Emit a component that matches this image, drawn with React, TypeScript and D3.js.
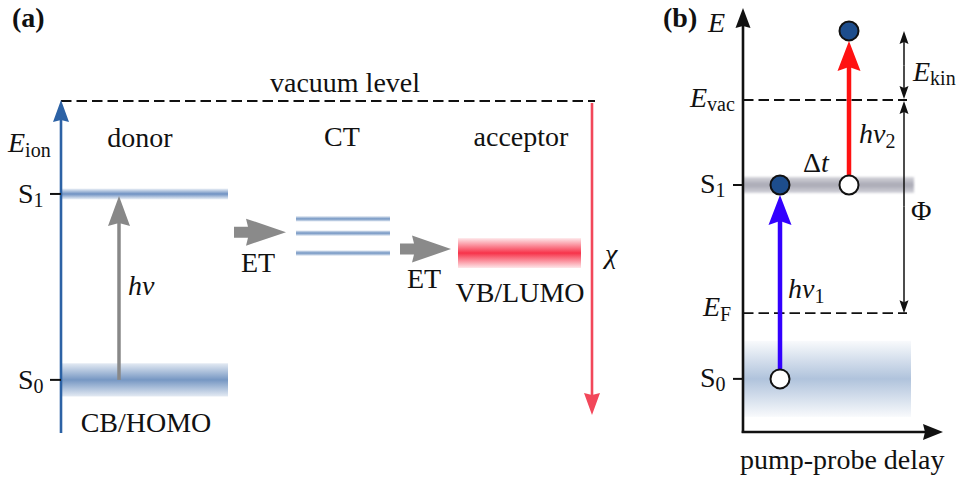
import React from "react";
import * as d3 from "d3";

// ---------- data (energies in arbitrary eV-like units, vacuum level = 0) ----------
const donorLevelNames = ["S1", "S0"];
const donorLevelEnergies = [-2.8, -8.4];
const donorLevelWidths = [0.33, 1.0];
const ctLevelEnergies = [-3.55, -3.98, -4.58];
const acceptorEnergy = [-4.58];
const acceptorWidth = [0.9];
const vacuumEnergy = 0;
const axisMinA = -10;
const chiEnd = -9.46;

const levelNamesB = ["E_vac", "E_F"];
const levelEnergiesB = [0, -6.42];
const stateNamesB = ["S1", "S0"];
const stateEnergiesB = [-2.56, -8.4];
const stateWidthsB = [0.48, 2.29];
const pulseDelays = [0.185, 0.53]; // pump, probe
const photoelectronEnergy = [2.08];
const axisMaxB = 2.71;
const axisMinB = -10;

const FONT = "'Liberation Serif', 'Times New Roman', serif";

// scales
const yA = d3.scaleLinear().domain([0, -10]).range([101, 433]);
const yB = d3.scaleLinear().domain([0, -10]).range([100, 432]);
const xB = d3.scaleLinear().domain([0, 1]).range([743, 943]);

function head(x1: number, y1: number, x2: number, y2: number, len: number, w: number, conc = 3) {
  const dx = x2 - x1, dy = y2 - y1;
  const L = Math.hypot(dx, dy);
  const ux = dx / L, uy = dy / L;
  const nx = -uy, ny = ux;
  const bx = x2 - ux * len, by = y2 - uy * len;
  const ix = x2 - ux * (len - conc), iy = y2 - uy * (len - conc);
  const pts = [
    [x2, y2],
    [bx + nx * w / 2, by + ny * w / 2],
    [ix, iy],
    [bx - nx * w / 2, by - ny * w / 2],
  ];
  return { points: pts.map((p) => p.join(",")).join(" "), ix, iy };
}

function Arrow({ x1, y1, x2, y2, color, sw, len, w, conc = 3 }: any) {
  const h = head(x1, y1, x2, y2, len, w, conc);
  return (
    <g>
      <line x1={x1} y1={y1} x2={h.ix} y2={h.iy} stroke={color} strokeWidth={sw} />
      <polygon points={h.points} fill={color} />
    </g>
  );
}

function BlockArrow({ x0, x1, yc }: any) {
  const shaftH = 11, headH = 27, headStart = x0 + 14;
  const pts = [
    [x0, yc - shaftH / 2],
    [headStart, yc - shaftH / 2],
    [headStart - 2, yc - headH / 2],
    [x1, yc],
    [headStart - 2, yc + headH / 2],
    [headStart, yc + shaftH / 2],
    [x0, yc + shaftH / 2],
  ];
  return <polygon points={pts.map((p) => p.join(",")).join(" ")} fill="#8a8a8a" />;
}

function Grad({ id, color, edge }: any) {
  return (
    <linearGradient id={id} x1="0" y1="0" x2="0" y2="1">
      <stop offset="0%" stopColor={color} stopOpacity={edge} />
      <stop offset="50%" stopColor={color} stopOpacity={1} />
      <stop offset="100%" stopColor={color} stopOpacity={edge} />
    </linearGradient>
  );
}

function Sub({ x, y, main, sub, italic = false, size = 28, subSize = 20, dy = 5, anchor = "start" }: any) {
  return (
    <text x={x} y={y} fontFamily={FONT} fontSize={size} fill="#111" textAnchor={anchor}>
      <tspan fontStyle={italic ? "italic" : "normal"}>{main}</tspan>
      <tspan fontSize={subSize} dy={dy}>{sub}</tspan>
    </text>
  );
}

export default function App() {
  const axisXA = 61;
  const donorX0 = 61, donorX1 = 228;
  const ctX0 = 296, ctX1 = 390;
  const accX0 = 458, accX1 = 581;
  const chiX = 592;
  const axisXB = xB(0);
  const bandEndB = xB(0.84);
  const dashEndB = xB(0.82);
  const sideX = xB(0.805);
  const blueAxis = "#2c62a5";
  const red = "#f2475a";

  return (
    <svg width={962} height={481} style={{ position: "absolute", left: 0, top: 0, background: "#fff" }}>
      <defs>
        <Grad id="gS1" color="#6e91c2" edge={0.12} />
        <Grad id="gS0" color="#7697c3" edge={0.2} />
        <Grad id="gCT" color="#7496c3" edge={0.2} />
        <Grad id="gAcc" color="#f7334a" edge={0.12} />
        <Grad id="gBS1" color="#a9a9b5" edge={0.5} />
        <Grad id="gBS0" color="#b0c3dc" edge={0.08} />
        <filter id="soft" x="-5%" y="-50%" width="110%" height="200%">
          <feGaussianBlur stdDeviation="1.2" />
        </filter>
      </defs>

      {/* ================= panel (a) ================= */}
      <text x={12} y={27} fontFamily={FONT} fontSize={28} fontWeight="bold" fill="#111">(a)</text>

      {/* donor levels */}
      {donorLevelEnergies.map((e, i) => (
        <rect key={"d" + i} x={donorX0} width={donorX1 - donorX0}
          y={yA(e + donorLevelWidths[i] / 2)} height={yA(e - donorLevelWidths[i] / 2) - yA(e + donorLevelWidths[i] / 2)}
          fill={i === 0 ? "url(#gS1)" : "url(#gS0)"} />
      ))}
      {/* CT levels */}
      {ctLevelEnergies.map((e, i) => (
        <rect key={"ct" + i} x={ctX0} width={ctX1 - ctX0} y={yA(e) - 2.7} height={5.4} fill="url(#gCT)" />
      ))}
      {/* acceptor */}
      {acceptorEnergy.map((e, i) => (
        <rect key={"acc" + i} x={accX0} width={accX1 - accX0}
          y={yA(e + acceptorWidth[i] / 2)} height={yA(e - acceptorWidth[i] / 2) - yA(e + acceptorWidth[i] / 2)}
          fill="url(#gAcc)" />
      ))}

      {/* vacuum level */}
      <line x1={axisXA} x2={595} y1={yA(vacuumEnergy)} y2={yA(vacuumEnergy)} stroke="#111" strokeWidth={1.8} strokeDasharray="10.5,5" />
      <text x={345} y={92} fontFamily={FONT} fontSize={28} fill="#111" textAnchor="middle">vacuum level</text>

      {/* E_ion axis */}
      <Arrow x1={axisXA} y1={yA(axisMinA)} x2={axisXA} y2={yA(vacuumEnergy) - 1} color={blueAxis} sw={2.6} len={22} w={16} conc={2} />
      <Sub x={8} y={152} main="E" sub="ion" italic />

      {/* ticks + labels */}
      {donorLevelEnergies.map((e, i) => (
        <g key={"t" + i}>
          <line x1={50} x2={axisXA} y1={yA(e)} y2={yA(e)} stroke="#111" strokeWidth={2} />
          <Sub x={18} y={yA(e) + 9} main="S" sub={donorLevelNames[i].slice(1)} dy={4} />
        </g>
      ))}

      {/* hv excitation */}
      <Arrow x1={119} y1={yA(donorLevelEnergies[1])} x2={119} y2={yA(donorLevelEnergies[0]) + 2} color="#888" sw={3.5} len={30} w={22} conc={3} />
      <text x={128} y={295} fontFamily={FONT} fontSize={28} fontStyle="italic" fill="#111">hν</text>

      <text x={140} y={147} fontFamily={FONT} fontSize={28} fill="#111" textAnchor="middle">donor</text>
      <text x={342} y={146} fontFamily={FONT} fontSize={28} fill="#111" textAnchor="middle">CT</text>
      <text x={521} y={146} fontFamily={FONT} fontSize={28} fill="#111" textAnchor="middle">acceptor</text>
      <text x={146} y={432} fontFamily={FONT} fontSize={28} fill="#111" textAnchor="middle">CB/HOMO</text>
      <text x={520} y={302} fontFamily={FONT} fontSize={28} fill="#111" textAnchor="middle">VB/LUMO</text>

      {/* ET arrows */}
      <BlockArrow x0={234} x1={286} yc={yA(-3.95)} />
      <text x={258} y={272} fontFamily={FONT} fontSize={28} fill="#111" textAnchor="middle">ET</text>
      <BlockArrow x0={400} x1={451} yc={yA(acceptorEnergy[0]) - 4} />
      <text x={424} y={288} fontFamily={FONT} fontSize={28} fill="#111" textAnchor="middle">ET</text>

      {/* chi arrow */}
      <Arrow x1={chiX} y1={yA(vacuumEnergy) + 2} x2={chiX} y2={yA(chiEnd)} color={red} sw={2.6} len={22} w={16} conc={2} />
      <text x={605} y={263} fontFamily={FONT} fontSize={28} fontStyle="italic" fill="#111">χ</text>

      {/* ================= panel (b) ================= */}
      <text x={663} y={27} fontFamily={FONT} fontSize={28} fontWeight="bold" fill="#111">(b)</text>

      {/* state bands */}
      {stateEnergiesB.map((e, i) => (
        <rect key={"sb" + i} x={axisXB} width={bandEndB - axisXB + (i === 0 ? 3 : 0)}
          y={yB(e + stateWidthsB[i] / 2)} height={yB(e - stateWidthsB[i] / 2) - yB(e + stateWidthsB[i] / 2)}
          fill={i === 0 ? "url(#gBS1)" : "url(#gBS0)"} filter={i === 0 ? "url(#soft)" : undefined} />
      ))}

      {/* dashed levels */}
      {levelEnergiesB.map((e, i) => (
        <line key={"lb" + i} x1={axisXB} x2={dashEndB} y1={yB(e)} y2={yB(e)} stroke="#111" strokeWidth={1.8} strokeDasharray="10.5,5" />
      ))}

      {/* axes */}
      <Arrow x1={axisXB} y1={yB(axisMinB) + 1} x2={axisXB} y2={yB(axisMaxB) - 2} color="#111" sw={2.6} len={20} w={15} conc={2} />
      <Arrow x1={axisXB - 1.3} y1={yB(axisMinB)} x2={xB(1)} y2={yB(axisMinB)} color="#111" sw={2.6} len={20} w={16} conc={2} />

      {/* ticks */}
      {stateEnergiesB.map((e, i) => (
        <g key={"tb" + i}>
          <line x1={733} x2={axisXB} y1={yB(e)} y2={yB(e)} stroke="#111" strokeWidth={2} />
          <Sub x={700} y={yB(e) + 8} main="S" sub={stateNamesB[i].slice(1)} dy={4} />
        </g>
      ))}

      <text x={708} y={32} fontFamily={FONT} fontSize={28} fontStyle="italic" fill="#111">E</text>
      <Sub x={690} y={yB(levelEnergiesB[0]) + 7} main="E" sub="vac" italic dy={4} />
      <Sub x={703} y={yB(levelEnergiesB[1]) + 3} main="E" sub="F" italic dy={5} />

      {/* pump arrow (blue) */}
      <Arrow x1={xB(pulseDelays[0])} y1={yB(stateEnergiesB[1])} x2={xB(pulseDelays[0])} y2={yB(stateEnergiesB[0]) + 10} color="#3300ff" sw={4.5} len={30} w={23} conc={4} />
      {/* probe arrow (red) */}
      <Arrow x1={xB(pulseDelays[1])} y1={yB(stateEnergiesB[0])} x2={xB(pulseDelays[1])} y2={yB(photoelectronEnergy[0]) + 10} color="#ff1111" sw={4.5} len={30} w={23} conc={4} />

      {/* electrons */}
      <circle cx={xB(pulseDelays[0])} cy={yB(stateEnergiesB[1])} r={9.5} fill="#fff" stroke="#111" strokeWidth={2} />
      <circle cx={xB(pulseDelays[0])} cy={yB(stateEnergiesB[0])} r={9.5} fill="#1d4d8c" stroke="#111" strokeWidth={2} />
      <circle cx={xB(pulseDelays[1])} cy={yB(stateEnergiesB[0])} r={9.5} fill="#fff" stroke="#111" strokeWidth={2} />
      <circle cx={xB(pulseDelays[1])} cy={yB(photoelectronEnergy[0])} r={9.5} fill="#1d4d8c" stroke="#111" strokeWidth={2} />

      <text x={803} y={172} fontFamily={FONT} fontSize={28} fill="#111">Δ<tspan fontStyle="italic">t</tspan></text>
      <text x={859} y={143} fontFamily={FONT} fontSize={28} fill="#111"><tspan fontStyle="italic">hν</tspan><tspan fontSize={20} dy={5}>2</tspan></text>
      <text x={788} y={298} fontFamily={FONT} fontSize={28} fill="#111"><tspan fontStyle="italic">hν</tspan><tspan fontSize={20} dy={5}>1</tspan></text>

      {/* E_kin and Phi double arrows */}
      <Arrow x1={sideX} y1={(yB(photoelectronEnergy[0]) + yB(0)) / 2} x2={sideX} y2={yB(photoelectronEnergy[0])} color="#111" sw={1.5} len={13} w={9} conc={2} />
      <Arrow x1={sideX} y1={(yB(photoelectronEnergy[0]) + yB(0)) / 2} x2={sideX} y2={yB(0) - 1} color="#111" sw={1.5} len={13} w={9} conc={2} />
      <Arrow x1={sideX} y1={(yB(0) + yB(levelEnergiesB[1])) / 2} x2={sideX} y2={yB(0) + 1} color="#111" sw={1.5} len={13} w={9} conc={2} />
      <Arrow x1={sideX} y1={(yB(0) + yB(levelEnergiesB[1])) / 2} x2={sideX} y2={yB(levelEnergiesB[1])} color="#111" sw={1.5} len={13} w={9} conc={2} />
      <Sub x={913} y={81} main="E" sub="kin" italic dy={4} />
      <text x={911} y={220} fontFamily={FONT} fontSize={28} fill="#111">Φ</text>

      <text x={740} y={469} fontFamily={FONT} fontSize={28} fill="#111">pump-probe delay</text>
    </svg>
  );
}
